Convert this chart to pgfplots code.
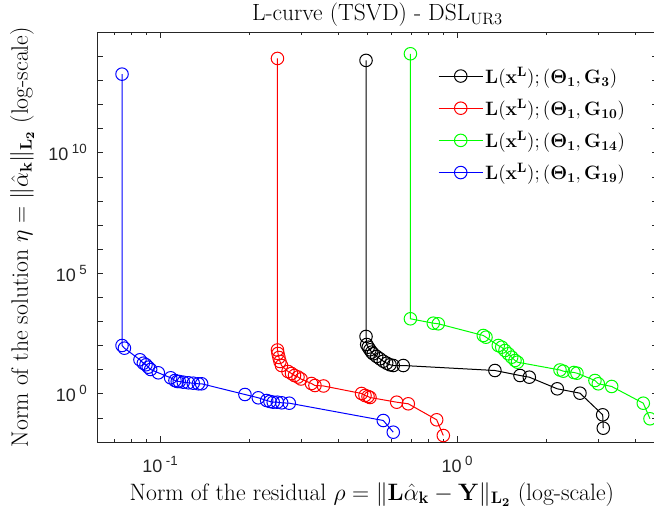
\RequirePackage{fix-cm}
\documentclass[border=0pt]{standalone}
\usepackage[no-math]{fontspec}
\newfontfamily\tickfont{Liberation Sans}
\usepackage{pgfplots}
\pgfplotsset{compat=1.18}
\newcommand{\tkl}[1]{10\kern2.6pt\raisebox{0.4em}{\fontsize{10}{11}\selectfont #1}}
\begin{document}
\begin{tikzpicture}
\begin{axis}[
  scale only axis,
  width=420.75pt, height=307.3pt,
  xmode=log, ymode=log,
  xmin=0.06135, xmax=4.752, ymin=1e-2, ymax=1e15,
  xtick={0.1,1}, xticklabels={\tkl{-1},\tkl{0}},
  minor xtick={0.07,0.08,0.09,0.2,0.3,0.4,0.5,0.6,0.7,0.8,0.9,2,3,4},
  ytick={1e-2,1e-1,1,1e1,1e2,1e3,1e4,1e5,1e6,1e7,1e8,1e9,1e10,1e11,1e12,1e13,1e14,1e15},
  yticklabels={,,\tkl{0},,,,,\tkl{5},,,,,\tkl{10},,,,,},
  minor ytick={1e-3},
  tick align=inside,
  major tick length=4.2pt, minor tick length=2.4pt,
  axis line style={black!85, line width=0.5pt},
  every tick/.style={black!85, line width=0.5pt},
  tick label style={font=\tickfont\fontsize{13.5}{15}\selectfont, text=black!85},
  xticklabel style={anchor=base, yshift=-23pt, inner sep=0pt},
  yticklabel style={anchor=east, xshift=-7.5pt, inner sep=0pt},
  title={L-curve (TSVD) - DSL$_{\mathrm{UR3}}$},
  title style={at={(axis description cs:0.5,1.0088)}, anchor=base, inner sep=0pt, font=\fontsize{17.6}{20}\selectfont},
  xlabel={Norm of the residual $\rho = \|\mathbf{L}\hat{\alpha}_{\mathbf{k}} - \mathbf{Y}\|_{\mathbf{L_2}}$ (log-scale)},
  xlabel style={at={(axis description cs:0.49,-0.1425)}, anchor=base, inner sep=0pt, font=\fontsize{17.8}{20}\selectfont},
  ylabel={Norm of the solution $\eta = \|\hat{\alpha}_{\mathbf{k}}\|_{\mathbf{L_2}}$ (log-scale)},
  ylabel style={at={(axis description cs:-0.123,0.5)}, anchor=base, inner sep=0pt, font=\fontsize{17.8}{20}\selectfont},
  legend style={at={(axis description cs:0.6078,0.921)}, anchor=north west, draw=none, fill=none, inner sep=0pt, row sep=7.4pt, font=\fontsize{14.5}{17}\selectfont, nodes={inner sep=1.5pt}},
  legend cell align=left,
  legend image code/.code={\draw[mark repeat=2,mark phase=2,#1] plot coordinates {(0pt,0pt) (16.5pt,0pt) (33pt,0pt)};},
  every axis plot/.append style={line width=0.75pt, mark=o, mark size=4.7pt},
]
\path (rel axis cs:0,0) coordinate (SW);
\addplot[black] coordinates {
(0.494,6.8e13) (0.494,239) (0.4966,111) (0.5027,85.9) (0.5094,67.0) (0.5160,53.3)
(0.5225,45.7) (0.5364,35.3) (0.5503,28.3) (0.5648,22.5) (0.5798,18.6) (0.5948,16.0)
(0.6102,14.9) (0.6595,14.9) (1.342,9.26) (1.630,5.74) (1.752,4.89) (2.176,1.61)
(2.595,1.06) (3.095,0.134) (3.109,0.0374)};
\addlegendentry{$\mathbf{L(x^L); (\Theta_1, G_3)}$}
\addplot[red] coordinates {
(0.2486,8.2e13) (0.2486,65.7) (0.2496,47.0) (0.2515,32.1) (0.2535,21.9) (0.2565,14.9)
(0.2698,8.42) (0.2772,6.95) (0.2837,5.74) (0.2915,4.98) (0.2984,4.11) (0.3236,2.67)
(0.3325,2.21) (0.3553,2.11) (0.4771,1.03) (0.4901,0.85) (0.5017,0.772) (0.5095,0.702)
(0.6266,0.448) (0.6855,0.385) (0.8543,0.0834) (0.8994,0.0186)};
\addlegendentry{$\mathbf{L(x^L); (\Theta_1, G_{10})}$}
\addplot[color={rgb,1:red,0;green,1;blue,0}] coordinates {
(0.697,1.28e14) (0.697,1294) (0.8322,850) (0.8650,803) (1.2264,262) (1.2523,223)
(1.3774,101) (1.4146,85.9) (1.4510,62.6) (1.4886,45.7) (1.5284,33.0) (1.5679,24.1)
(1.5985,20.5) (2.2227,9.72) (2.2803,8.67) (2.4763,7.66) (2.5351,7.16) (2.9151,3.56)
(2.9909,2.60) (3.3183,2.01) (4.2399,0.407) (4.4660,0.0918)};
\addlegendentry{$\mathbf{L(x^L); (\Theta_1, G_{14})}$}
\addplot[blue] coordinates {
(0.0745,1.83e13) (0.0745,101) (0.0759,78) (0.0856,25.8) (0.0879,18.6) (0.0897,16.0)
(0.0913,12.7) (0.0930,10.2) (0.0987,7.43) (0.1086,4.61) (0.1123,3.56) (0.1143,3.24)
(0.1161,3.24) (0.1198,3.03) (0.1246,2.86) (0.1294,2.75) (0.1346,2.60) (0.1381,2.60)
(0.1932,0.935) (0.2143,0.682) (0.2287,0.527) (0.2346,0.479) (0.2406,0.448) (0.2483,0.448)
(0.2569,0.423) (0.2725,0.407) (0.5648,0.078) (0.6102,0.0255)};
\addlegendentry{$\mathbf{L(x^L); (\Theta_1, G_{19})}$}
\end{axis}
\pgfresetboundingbox
\useasboundingbox ([shift={(-72.75pt,-53.25pt)}]SW) rectangle ([shift={(417.75pt,331.5pt)}]SW);
\end{tikzpicture}
\end{document}
